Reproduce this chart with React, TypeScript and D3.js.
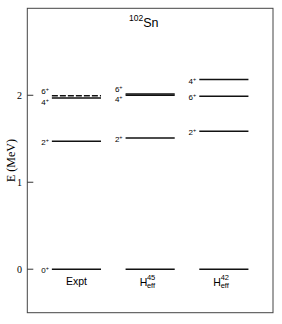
import * as d3 from 'd3'

// level scheme for 102Sn
const columns = ['Expt', 'H45', 'H42']
const exptSpins = ['0', '2', '4', '6']
const exptEnergies = [0, 1.47, 1.97, 1.995]
const h45Spins = ['0', '2', '4', '6']
const h45Energies = [0, 1.51, 2.0, 2.015]
const h42Spins = ['0', '2', '4', '6']
const h42Energies = [0, 1.585, 2.18, 1.99]
const yTicks = [0, 1, 2]

const W = 282
const H = 324
const frame = { left: 27.3, right: 273, top: 8.3, bottom: 312.7 }
const sans = '"Liberation Sans", Arial, sans-serif'
const serif = '"Liberation Serif", "Times New Roman", serif'

type Level = { col: string; spin: string; e: number; dashed: boolean; shift: number }

function buildLevels(col: string, spins: string[], energies: number[]): Level[] {
  const lv = spins.map((s, i) => ({ col, spin: s, e: energies[i], dashed: false, shift: 1 }))
  // nudge labels apart when two levels almost coincide
  lv.forEach((a) => {
    lv.forEach((b) => {
      if (a !== b && Math.abs(a.e - b.e) < 0.1) a.shift = a.e >= b.e ? -5 : 4
    })
  })
  return lv
}

export default function App() {
  const x = d3.scaleBand<string>().domain(columns).range([frame.left, frame.right])
    .paddingInner(1 / 3).paddingOuter(1 / 3)
  const y = d3.scaleLinear().domain([-0.5, 3.0]).range([frame.bottom, frame.top])

  const levels = [
    ...buildLevels('Expt', exptSpins, exptEnergies),
    ...buildLevels('H45', h45Spins, h45Energies),
    ...buildLevels('H42', h42Spins, h42Energies),
  ]
  // expt 6+ is drawn dashed
  levels.find((l) => l.col === 'Expt' && l.spin === '6')!.dashed = true

  const bw = x.bandwidth()

  return (
    <svg width={W} height={H} style={{ position: 'absolute', left: 0, top: 0 }}>
      <rect x={frame.left} y={frame.top} width={frame.right - frame.left}
        height={frame.bottom - frame.top} fill="none" stroke="#444" strokeWidth={1} />

      {yTicks.map((t) => (
        <g key={t}>
          <line x1={frame.left} x2={frame.left + 6} y1={y(t)} y2={y(t)} stroke="#333" />
          <text x={22} y={y(t)} dy="0.35em" textAnchor="end" fontFamily={serif} fontSize={10}>{t}</text>
        </g>
      ))}
      <text transform={`translate(15,${(frame.top + frame.bottom) / 2}) rotate(-90)`}
        textAnchor="middle" fontFamily={serif} fontSize={12}>E (MeV)</text>

      <text x={129} y={27} fontFamily={sans} fontSize={12.5}>
        <tspan fontSize={8.5} dy={-6}>102</tspan>
        <tspan dy={6}>Sn</tspan>
      </text>

      {levels.filter((l) => l.spin !== '0' || l.col === 'Expt').map((l) => (
        <text key={'lab' + l.col + l.spin} x={x(l.col)! - 3} y={y(l.e) + l.shift + 3}
          textAnchor="end" fontFamily={sans} fontSize={8}>
          {l.spin}<tspan fontSize={5.5} dy={-3}>+</tspan>
        </text>
      ))}
      {levels.map((l) => (
        <line key={l.col + l.spin} x1={x(l.col)!} x2={x(l.col)! + bw} y1={y(l.e)} y2={y(l.e)}
          stroke="#111" strokeWidth={1.5} strokeDasharray={l.dashed ? '6,2' : undefined} />
      ))}

      <text x={x('Expt')! + bw / 2} y={285} textAnchor="middle" fontFamily={sans} fontSize={10.5}>Expt</text>
      {['H45', 'H42'].map((c) => {
        const x0 = x(c)! + bw / 2 - 10.5
        return (
          <g key={c} fontFamily={sans}>
            <text x={x0} y={286} fontSize={10.5}>H</text>
            <text x={x0 + 7.3} y={280} fontSize={7.5}>{c.slice(1)}</text>
            <text x={x0 + 7.3} y={288} fontSize={7.5}>eff</text>
          </g>
        )
      })}
    </svg>
  )
}
